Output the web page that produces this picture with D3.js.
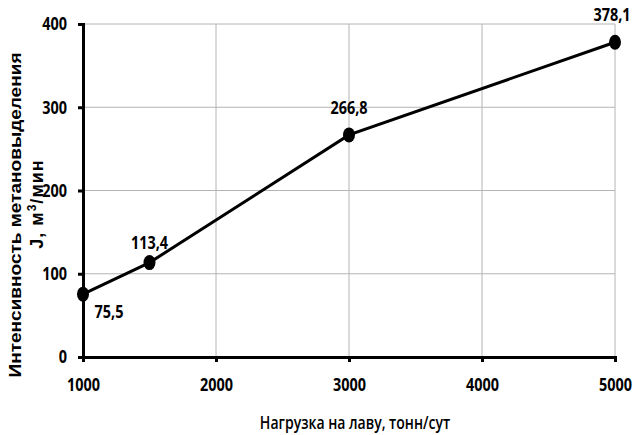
<!DOCTYPE html>
<html><head><meta charset="utf-8">
<script src="https://cdn.jsdelivr.net/npm/d3@7"></script>
<style>body{margin:0;background:#fff}svg{display:block}</style>
</head><body>
<svg id="c" width="633" height="435"></svg>
<script>
const loads = [1000, 1500, 3000, 5000];
const intensity = [75.5, 113.4, 266.8, 378.1];
const pointLabels = ["75,5", "113,4", "266,8", "378,1"];
const xTicks = [1000, 2000, 3000, 4000, 5000];
const yTicks = [0, 100, 200, 300, 400];
const xTitle = "Нагрузка на лаву, тонн/сут";
const yTitle1 = "Интенсивность метановыделения";

const svg = d3.select("#c");
const x = d3.scaleLinear().domain([1000, 5000]).range([83, 615]);
const y = d3.scaleLinear().domain([0, 400]).range([357, 24]);
const narrow = "'Open Sans',sans-serif";
const K = 0.78;

// grid
svg.append("g").selectAll("line").data(xTicks.slice(1)).join("line")
  .attr("x1", d => x(d)).attr("x2", d => x(d)).attr("y1", y(400)).attr("y2", y(0))
  .attr("stroke", "#b4b4b4").attr("stroke-width", 1);
svg.append("g").selectAll("line").data(yTicks.slice(1)).join("line")
  .attr("x1", x(1000)).attr("x2", x(5000)).attr("y1", d => y(d)).attr("y2", d => y(d))
  .attr("stroke", "#b4b4b4").attr("stroke-width", 1);

// axes
const xAxis = svg.append("g").attr("transform", `translate(0,${y(0)})`)
  .call(d3.axisBottom(x).tickValues(xTicks).tickSize(5).tickPadding(16).tickFormat(d3.format("d")));
const yAxis = svg.append("g").attr("transform", `translate(${x(1000)},0)`)
  .call(d3.axisLeft(y).tickValues(yTicks).tickSize(5).tickPadding(0));
[xAxis, yAxis].forEach(a => {
  a.select(".domain").attr("stroke", "#000").attr("stroke-width", 3);
  a.selectAll(".tick line").attr("stroke", "#000").attr("stroke-width", 3);
  a.selectAll(".tick text").attr("fill", "#000").style("font-family", narrow)
    .style("font-size", "18.5px").style("font-weight", "bold");
});
xAxis.selectAll(".tick text").attr("transform", `scale(${K},1)`);
yAxis.selectAll(".tick text").attr("x", null).attr("transform", `translate(-16,0) scale(${K},1)`);

// line
const line = d3.line().x((d, i) => x(loads[i])).y(d => y(d));
svg.append("path").datum(intensity).attr("d", line)
  .attr("fill", "none").attr("stroke", "#000").attr("stroke-width", 3);
svg.append("g").selectAll("ellipse").data(intensity).join("ellipse")
  .attr("cx", (d, i) => x(loads[i])).attr("cy", d => y(d)).attr("rx", 6).attr("ry", 7.5).attr("fill", "#000");

// labels
const offs = [[26, 17], [0, -21], [0, -28], [-3, -28]];
svg.append("g").selectAll("text").data(intensity).join("text")
  .attr("transform", (d, i) => `translate(${x(loads[i]) + offs[i][0]},${y(d) + offs[i][1]}) scale(${K},1)`)
  .attr("text-anchor", "middle").attr("dominant-baseline", "central")
  .style("font-family", narrow).style("font-size", "18.5px").style("font-weight", "bold")
  .text((d, i) => pointLabels[i]);

// titles
svg.append("text").attr("transform", `translate(355,429) scale(${K},1)`).attr("text-anchor", "middle")
  .style("font-family", narrow).style("font-size", "18px").style("font-weight", "600")
  .text(xTitle);
const yt = svg.append("g").attr("transform", "translate(0,215) rotate(-90)")
  .style("font-family", "'Liberation Sans',Arial,sans-serif").style("font-size", "17px").style("font-weight", "bold");
yt.append("text").attr("x", 0).attr("y", 21).attr("text-anchor", "middle")
  .attr("textLength", 325).attr("lengthAdjust", "spacingAndGlyphs").text(yTitle1);
const t2 = yt.append("text").attr("x", 11).attr("y", 43).attr("text-anchor", "middle")
  .style("font-size", "18px").attr("letter-spacing", "1");
t2.append("tspan").text("J,  м");
t2.append("tspan").attr("dy", -7).style("font-size", "12px").text("3");
t2.append("tspan").attr("dy", 7).text("/мин");
</script>
</body></html>
